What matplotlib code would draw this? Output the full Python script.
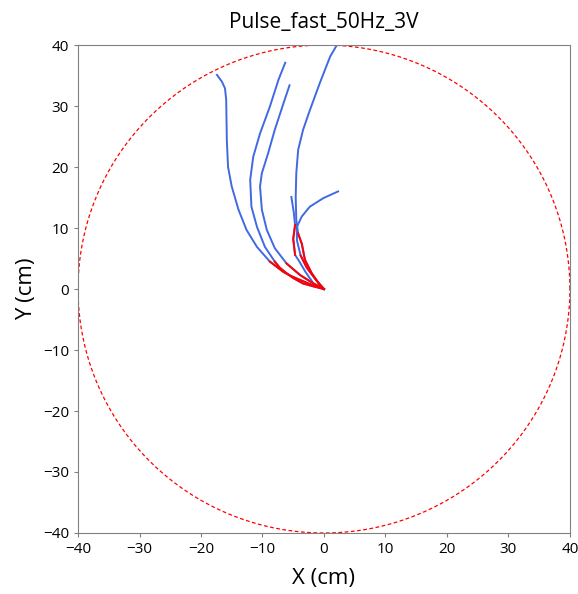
import numpy as np
import matplotlib.pyplot as plt

plt.rcParams['font.family'] = ['Open Sans', 'DejaVu Sans']

title = "Pulse_fast_50Hz_3V"
arena_radius = 40
ticks = [-40, -30, -20, -10, 0, 10, 20, 30, 40]

# trajectories (cm), each starting at the release point (origin)
traj1_x = [0.0, -1.8, -3.9, -5.3, -6.6, -8.8, -10.9, -12.6, -13.9, -15.0, -15.6, -15.8, -15.9, -16.1, -16.6, -17.4]
traj1_y = [0.0, 0.6, 1.5, 2.1, 2.8, 4.5, 6.9, 9.7, 13.0, 16.8, 20.0, 24.4, 31.0, 32.9, 34.0, 35.1]
traj1_red = (0, 5)

traj2_x = [0.0, -1.6, -3.4, -5.0, -6.1, -7.2, -8.0, -9.6, -10.9, -11.8, -12.0, -11.5, -10.4, -8.8, -7.4, -6.3]
traj2_y = [0.0, 0.4, 0.9, 1.8, 2.6, 3.5, 4.5, 6.9, 10.2, 13.5, 17.9, 21.7, 25.5, 29.9, 34.3, 37.1]
traj2_red = (0, 6)

traj3_x = [0.0, -1.7, -3.9, -6.1, -8.0, -9.3, -10.1, -10.4, -10.1, -9.1, -8.0, -6.6, -5.6]
traj3_y = [0.0, 0.9, 2.3, 4.2, 6.7, 9.7, 13.0, 16.8, 19.0, 22.2, 26.1, 30.4, 33.4]
traj3_red = (0, 3)

traj4_x = [0.0, -0.7, -2.0, -3.1, -3.6, -4.2, -4.5, -4.6, -4.5, -4.2, -3.4, -2.3, -0.7, 1.0, 2.1, 2.6]
traj4_y = [0.0, 0.7, 2.6, 4.8, 7.4, 9.1, 11.3, 15.1, 19.0, 22.8, 26.1, 29.3, 33.7, 38.1, 40.0, 41.0]
traj4_red = (0, 5)

traj5_x = [0.0, -1.7, -3.0, -4.0, -4.7, -5.0, -4.7, -4.9, -5.3]
traj5_y = [0.0, 0.9, 2.8, 4.5, 5.6, 8.2, 10.5, 12.5, 15.1]
traj5_red = (4, 6)

traj6_x = [0.0, -1.3, -2.8, -3.8, -4.4, -4.4, -3.6, -2.3, -0.1, 2.3]
traj6_y = [0.0, 1.5, 3.5, 5.5, 8.0, 10.2, 11.9, 13.5, 14.9, 16.0]
traj6_red = (0, 3)

trajectories = [
    (traj1_x, traj1_y, traj1_red),
    (traj2_x, traj2_y, traj2_red),
    (traj3_x, traj3_y, traj3_red),
    (traj4_x, traj4_y, traj4_red),
    (traj5_x, traj5_y, traj5_red),
    (traj6_x, traj6_y, traj6_red),
]

fig = plt.figure(figsize=(5.78, 5.94), dpi=100)
ax = fig.add_axes([0.135, 0.1027, 0.851, 0.8215])

theta = np.linspace(0, 2*np.pi, 400)
ax.plot(arena_radius*np.cos(theta), arena_radius*np.sin(theta), '--', color='red', lw=0.9, dashes=(3, 2))

blue = '#4169E1'
for tx, ty, (r0, r1) in trajectories:
    ax.plot(tx, ty, color=blue, lw=1.4)
for tx, ty, (r0, r1) in trajectories:
    ax.plot(tx[r0:r1+1], ty[r0:r1+1], color='red', lw=1.4)

ax.set_xlim(-40, 40)
ax.set_ylim(-40, 40)
ax.set_xticks(ticks)
ax.set_yticks(ticks)
ax.tick_params(labelsize=11, length=3, color='#808080')
for sp in ax.spines.values():
    sp.set_color('#808080')
ax.set_xlabel("X (cm)", fontsize=16, labelpad=8)
ax.set_ylabel("Y (cm)", fontsize=16)
ax.set_title(title, fontsize=15, pad=12)

fig.savefig("out.png", dpi=100)
